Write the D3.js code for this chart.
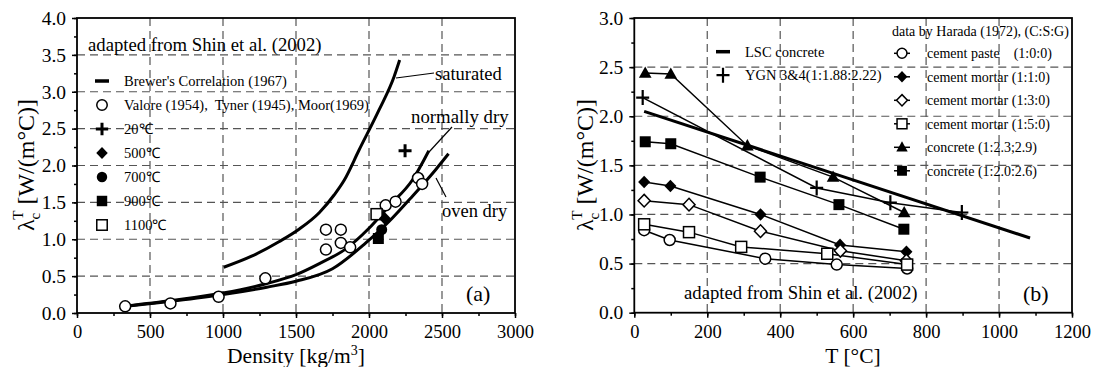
<!DOCTYPE html>
<html><head><meta charset="utf-8">
<script src="https://cdn.jsdelivr.net/npm/d3@7"></script>
<style>
html,body{margin:0;padding:0;background:#fff;}
svg{display:block;}
</style></head>
<body>
<svg id="c" width="1094" height="367" font-family="Liberation Serif, Times New Roman, serif"></svg>
<script>
// ---------- Panel (a) data ----------
const aXTicks = [0,500,1000,1500,2000,2500,3000];
const aYTicks = [0.0,0.5,1.0,1.5,2.0,2.5,3.0,3.5,4.0];
const saturatedD = [1005,1196,1386,1523,1659,1761,1830,1932,2068,2171,2210];
const saturatedV = [0.62,0.77,0.97,1.14,1.36,1.60,1.80,2.21,2.75,3.20,3.43];
const normDryD = [336,650,1000,1300,1500,1660,1841,2000,2137,2296,2410];
const normDryV = [0.095,0.17,0.27,0.40,0.52,0.67,0.87,1.15,1.45,1.80,2.20];
const ovenDryD = [336,650,1000,1300,1500,1750,1978,2137,2296,2455,2545];
const ovenDryV = [0.09,0.16,0.25,0.35,0.43,0.60,0.95,1.24,1.58,1.94,2.16];
const valoreD = [330,640,970,1290,1705,1705,1807,1807,1871,2114,2182,2336,2364];
const valoreV = [0.09,0.13,0.22,0.47,1.13,0.86,1.13,0.95,0.89,1.46,1.51,1.83,1.75];
const t20D = [2247], t20V = [2.20];
const t500D = [2109], t500V = [1.28];
const t700D = [2087], t700V = [1.13];
const t900D = [2064], t900V = [1.01];
const t1100D = [2052], t1100V = [1.34];
const aLegend = ["Brewer's Correlation (1967)","Valore (1954),  Tyner (1945), Moor(1969)","20℃","500℃","700℃","900℃","1100℃"];

// ---------- Panel (b) data ----------
const bXTicks = [0,200,400,600,800,1000,1200];
const bYTicks = [0.0,0.5,1.0,1.5,2.0,2.5,3.0];
const pasteT = [27,97,359,555,748],      pasteV = [0.84,0.74,0.55,0.49,0.45];
const m110T = [27,99,346,564,746],       m110V = [1.33,1.29,1.00,0.69,0.62];
const m130T = [27,150,346,565,746],      m130V = [1.14,1.10,0.83,0.63,0.53];
const m150T = [27,150,293,529,748],      m150V = [0.90,0.82,0.67,0.60,0.49];
const c23T = [30,100,310,545,740],       c23V = [2.44,2.43,1.70,1.38,1.02];
const c20T = [30,100,345,561,739],       c20V = [1.74,1.72,1.38,1.10,0.85];
const ygnT = [23,500,702,898],           ygnV = [2.19,1.27,1.12,1.02];
const lscT = [27,1085],                  lscV = [2.05,0.76];
const bLegend1 = ["LSC concrete","YGN 3&4(1:1.88:2.22)"];
const bLegend2 = ["cement paste    (1:0:0)","cement mortar (1:1:0)","cement mortar (1:3:0)","cement mortar (1:5:0)","concrete (1:2.3;2.9)","concrete (1:2.0:2.6)"];

const FONT = "Liberation Serif, Times New Roman, serif";
const svg = d3.select("#c");
const zip = (a,b)=>a.map((d,i)=>[d,b[i]]);

function marker(g, type, x, y, s=1){
  const r = 5.5*s;
  switch(type){
    case "circle": g.append("circle").attr("cx",x).attr("cy",y).attr("r",r).attr("fill","#fff").attr("stroke","#000").attr("stroke-width",1.5); break;
    case "fcircle": g.append("circle").attr("cx",x).attr("cy",y).attr("r",r).attr("fill","#000"); break;
    case "square": g.append("rect").attr("x",x-r).attr("y",y-r).attr("width",2*r).attr("height",2*r).attr("fill","#fff").attr("stroke","#000").attr("stroke-width",1.5); break;
    case "fsquare": g.append("rect").attr("x",x-r).attr("y",y-r).attr("width",2*r).attr("height",2*r).attr("fill","#000"); break;
    case "diamond": g.append("path").attr("d",`M${x},${y-r*1.15}L${x+r*1.1},${y}L${x},${y+r*1.15}L${x-r*1.1},${y}Z`).attr("fill","#fff").attr("stroke","#000").attr("stroke-width",1.5); break;
    case "fdiamond": g.append("path").attr("d",`M${x},${y-r*1.15}L${x+r*1.1},${y}L${x},${y+r*1.15}L${x-r*1.1},${y}Z`).attr("fill","#000"); break;
    case "ftriangle": g.append("path").attr("d",`M${x},${y-r*1.2}L${x+r*1.15},${y+r*0.85}L${x-r*1.15},${y+r*0.85}Z`).attr("fill","#000"); break;
    case "plus": g.append("path").attr("d",`M${x-6.5*s},${y}H${x+6.5*s}M${x},${y-6.5*s}V${y+6.5*s}`).attr("stroke","#000").attr("stroke-width",3); break;
    case "plusThin": g.append("path").attr("d",`M${x-6.5},${y}H${x+6.5}M${x},${y-7.5}V${y+7.5}`).attr("stroke","#000").attr("stroke-width",2.2); break;
    case "dash": g.append("path").attr("d",`M${x-7},${y}H${x+7}`).attr("stroke","#000").attr("stroke-width",3.5); break;
  }
}

function frame(x, y, xt, yt, xMinor, yMinor, xFmt, yFmt){
  const [x0,x1]=x.range(), [y0,y1]=y.range();
  const g = svg.append("g");
  g.selectAll(null).data(xt.slice(1,-1)).join("line")
    .attr("x1",d=>x(d)).attr("x2",d=>x(d)).attr("y1",y1).attr("y2",y0)
    .attr("stroke","#555").attr("stroke-width",1.2).attr("stroke-dasharray","8,5");
  g.selectAll(null).data(yt.slice(1,-1)).join("line")
    .attr("y1",d=>y(d)).attr("y2",d=>y(d)).attr("x1",x0).attr("x2",x1)
    .attr("stroke","#555").attr("stroke-width",1.2).attr("stroke-dasharray","8,5");
  const ax = d3.axisBottom(x).tickValues(xt).tickSize(5).tickPadding(7).tickFormat(xFmt);
  const axm = d3.axisBottom(x).tickValues(xMinor).tickSize(3).tickFormat("");
  const ay = d3.axisLeft(y).tickValues(yt).tickSize(5).tickPadding(6).tickFormat(yFmt);
  const aym = d3.axisLeft(y).tickValues(yMinor).tickSize(3).tickFormat("");
  [[ax,"x"],[axm,"x"],[ay,"y"],[aym,"y"]].forEach(([a,t])=>{
    const s = g.append("g").attr("transform", t==="x"?`translate(0,${y0})`:`translate(${x0},0)`).call(a);
    s.attr("font-family",FONT);
    s.select(".domain").remove();
    s.selectAll(".tick line").attr("stroke","#000").attr("stroke-width",1.5);
    s.selectAll("text").attr("font-size",t==="x"?18.5:19.5).attr("fill","#000");
  });
  g.append("rect").attr("x",x0).attr("y",y1).attr("width",x1-x0).attr("height",y0-y1)
    .attr("fill","none").attr("stroke","#000").attr("stroke-width",1.8);
  return g;
}

function yTitle(cx, cy){
  const t = svg.append("text").attr("transform",`translate(${cx},${cy}) rotate(-90)`)
    .attr("text-anchor","middle").attr("font-size",24).attr("fill","#000");
  t.append("tspan").text("λ");
  t.append("tspan").attr("font-size",15).attr("dy",6).text("c");
  t.append("tspan").attr("font-size",15).attr("dx",-7).attr("dy",-17).text("T");
  t.append("tspan").attr("dy",11).text(" [W/(m°C)]");
}

// =============== Panel (a) ===============
const xa = d3.scaleLinear().domain([0,3000]).range([77,515]);
const ya = d3.scaleLinear().domain([0,4]).range([313,18]);
frame(xa, ya, aXTicks, aYTicks, d3.range(0,3001,250), d3.range(0,4.01,0.25), d3.format("d"), d3.format(".1f"));

const lineA = d3.line().x(d=>xa(d[0])).y(d=>ya(d[1])).curve(d3.curveMonotoneX);
[[saturatedD,saturatedV],[normDryD,normDryV],[ovenDryD,ovenDryV]].forEach(([d,v])=>{
  svg.append("path").attr("d",lineA(zip(d,v))).attr("fill","none").attr("stroke","#000").attr("stroke-width",3);
});
const ga = svg.append("g");
zip(valoreD,valoreV).forEach(p=>marker(ga,"circle",xa(p[0]),ya(p[1])));
zip(t1100D,t1100V).forEach(p=>marker(ga,"square",xa(p[0]),ya(p[1])));
zip(t900D,t900V).forEach(p=>marker(ga,"fsquare",xa(p[0]),ya(p[1])));
zip(t700D,t700V).forEach(p=>marker(ga,"fcircle",xa(p[0]),ya(p[1])));
zip(t500D,t500V).forEach(p=>marker(ga,"fdiamond",xa(p[0]),ya(p[1])));
zip(t20D,t20V).forEach(p=>marker(ga,"plus",xa(p[0]),ya(p[1])));

svg.append("text").attr("x",88).attr("y",51).attr("font-size",18.7).text("adapted from Shin et al. (2002)");
const aSyms = ["dash","circle","plus","fdiamond","fcircle","fsquare","square"];
aLegend.forEach((s,i)=>{
  const y = 81 + i*24;
  marker(svg,aSyms[i],102,y,0.95);
  svg.append("text").attr("x",124).attr("y",y+5).attr("font-size",14.5).attr("xml:space","preserve").text(s);
});
const lbl = (x,y,t,fs=18.5)=>svg.append("text").attr("x",x).attr("y",y).attr("font-size",fs).text(t);
lbl(435,80,"saturated");
lbl(411,123,"normally dry",18.8);
lbl(442,217,"oven dry");
lbl(466,301,"(a)",22);
const lead = (x1,y1,x2,y2)=>svg.append("line").attr("x1",x1).attr("y1",y1).attr("x2",x2).attr("y2",y2).attr("stroke","#000").attr("stroke-width",1.2);
lead(396,78,434,73);
lead(452,127,429,152);
lead(436,178,446,197);

const xt = svg.append("text").attr("x",296).attr("y",362.5).attr("text-anchor","middle").attr("font-size",21.5);
xt.append("tspan").text("Density [kg/m");
xt.append("tspan").attr("font-size",14).attr("dy",-8).text("3");
xt.append("tspan").attr("dy",8).text("]");
yTitle(34,165);

// =============== Panel (b) ===============
const xb = d3.scaleLinear().domain([0,1200]).range([634.3,1072]);
const yb = d3.scaleLinear().domain([0,3]).range([312.7,18]);
frame(xb, yb, bXTicks, bYTicks, d3.range(0,1201,100), d3.range(0,3.01,0.25), d3.format("d"), d3.format(".1f"));

const lineB = d3.line().x(d=>xb(d[0])).y(d=>yb(d[1]));
svg.append("path").attr("d",lineB(zip(lscT,lscV))).attr("fill","none").attr("stroke","#000").attr("stroke-width",3);
const bSeries = [
  [pasteT,pasteV,"circle"],[m110T,m110V,"fdiamond"],[m130T,m130V,"diamond"],[m150T,m150V,"square"],
  [c23T,c23V,"ftriangle"],[c20T,c20V,"fsquare"],[ygnT,ygnV,"plusThin"]
];
bSeries.forEach(([t,v])=>{
  svg.append("path").attr("d",lineB(zip(t,v))).attr("fill","none").attr("stroke","#000").attr("stroke-width",1.5);
});
const gb = svg.append("g");
bSeries.forEach(([t,v,m])=>zip(t,v).forEach(p=>marker(gb,m,xb(p[0]),yb(p[1]))));

const l1Syms = ["dash","plusThin"];
bLegend1.forEach((s,i)=>{
  const y = 51.7 + i*23.5;
  marker(svg,l1Syms[i],723,y);
  svg.append("text").attr("x",745).attr("y",y+5).attr("font-size",14.5).text(s);
});
svg.append("text").attr("x",892).attr("y",36).attr("font-size",14).text("data by Harada (1972), (C:S:G)");
const l2Syms = ["circle","fdiamond","diamond","square","ftriangle","fsquare"];
bLegend2.forEach((s,i)=>{
  const y = 53.3 + i*23.5;
  svg.append("line").attr("x1",894).attr("x2",910).attr("y1",y).attr("y2",y).attr("stroke","#000").attr("stroke-width",1.5);
  marker(svg,l2Syms[i],902,y,0.9);
  svg.append("text").attr("x",927).attr("y",y+5).attr("font-size",14).attr("xml:space","preserve").text(s);
});
svg.append("text").attr("x",684).attr("y",299).attr("font-size",18.7).text("adapted from Shin et al. (2002)");
lbl(1023,301,"(b)",22);

svg.append("text").attr("x",853).attr("y",362.5).attr("text-anchor","middle").attr("font-size",21.5).text("T [°C]");
yTitle(593,165);

svg.selectAll("text").attr("font-family",FONT);
</script>
</body></html>
